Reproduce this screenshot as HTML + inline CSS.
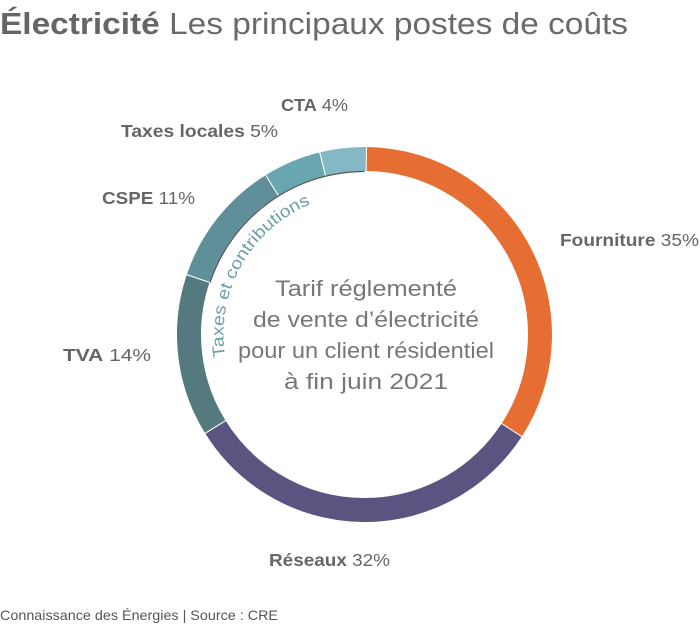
<!DOCTYPE html>
<html><head><meta charset="utf-8"><style>
body{margin:0;background:#fff;width:700px;height:625px;overflow:hidden;font-family:"Liberation Sans",sans-serif}
</style></head><body>
<svg id="s" width="700" height="625" xmlns="http://www.w3.org/2000/svg" font-family="Liberation Sans, sans-serif">
<text x="0" y="34" font-size="31" fill="#666" textLength="628" lengthAdjust="spacingAndGlyphs"><tspan font-weight="bold">Électricité</tspan><tspan fill="#6a6a6a"> Les principaux postes de coûts</tspan></text>
<g id="ring"></g>
<defs><path id="tp" d=""/></defs>
<text font-size="17" fill="#6a9fab"><textPath href="#tp" startOffset="0" textLength="188" lengthAdjust="spacingAndGlyphs">Taxes et contributions</textPath></text>
<g font-size="17.5" fill="#666">
<text x="281" y="111" textLength="67" lengthAdjust="spacingAndGlyphs"><tspan font-weight="bold">CTA</tspan> 4%</text>
<text x="121" y="137" textLength="157" lengthAdjust="spacingAndGlyphs"><tspan font-weight="bold">Taxes locales</tspan> 5%</text>
<text x="102" y="204" textLength="93" lengthAdjust="spacingAndGlyphs"><tspan font-weight="bold">CSPE</tspan> 11%</text>
<text x="63" y="361" textLength="88" lengthAdjust="spacingAndGlyphs"><tspan font-weight="bold">TVA</tspan> 14%</text>
<text x="560" y="246" textLength="139" lengthAdjust="spacingAndGlyphs"><tspan font-weight="bold">Fourniture</tspan> 35%</text>
<text x="269" y="566" textLength="121" lengthAdjust="spacingAndGlyphs"><tspan font-weight="bold">Réseaux</tspan> 32%</text>
</g>
<g font-size="22" fill="#777" text-anchor="middle">
<text x="366" y="296" textLength="182" lengthAdjust="spacingAndGlyphs">Tarif réglementé</text>
<text x="366" y="327" textLength="226" lengthAdjust="spacingAndGlyphs">de vente d’électricité</text>
<text x="366" y="358" textLength="256" lengthAdjust="spacingAndGlyphs">pour un client résidentiel</text>
<text x="366" y="389" textLength="164" lengthAdjust="spacingAndGlyphs">à fin juin 2021</text>
</g>
<text x="0" y="620" font-size="14" fill="#555" textLength="278" lengthAdjust="spacingAndGlyphs">Connaissance des Énergies | Source : CRE</text>
</svg>
<script>
var cx=364.5,cy=334.5,R=188,r=163,ns="http://www.w3.org/2000/svg",off=-3;
function pt(a,rad){a=(a+off)*Math.PI/180;return [cx+rad*Math.sin(a),cy-rad*Math.cos(a)];}
var segs=[[35,"#e66e32"],[32,"#5a5580"],[14,"#54797e"],[11,"#5f8f98"],[5,"#6aa5b2"],[4,"#84b8c4"]];
var g=document.getElementById("ring"),a0=0;
segs.forEach(function(s){var a1=a0+s[0]*3.6,l=(a1-a0)>180?1:0;
var p1=pt(a0,R),p2=pt(a1,R),p3=pt(a1,r),p4=pt(a0,r);
var p=document.createElementNS(ns,"path");
p.setAttribute("d","M"+p1+"A"+R+","+R+" 0 "+l+" 1 "+p2+"L"+p3+"A"+r+","+r+" 0 "+l+" 0 "+p4+"Z");
p.setAttribute("fill",s[1]);p.setAttribute("stroke","#fff");p.setAttribute("stroke-width","1");
g.appendChild(p);a0=a1;});
var q1=pt(291.6,r),q2=pt(363,r);
var ln=document.createElementNS(ns,"path");
ln.setAttribute("d","M"+q1+"A"+r+","+r+" 0 0 1 "+q2);ln.setAttribute("fill","none");ln.setAttribute("stroke","#555");ln.setAttribute("stroke-width","1.2");
g.appendChild(ln);
var t1=pt(264,141),t2=pt(343,141);
document.getElementById("tp").setAttribute("d","M"+t1+"A141,141 0 0 1 "+t2);
</script>
</body></html>
